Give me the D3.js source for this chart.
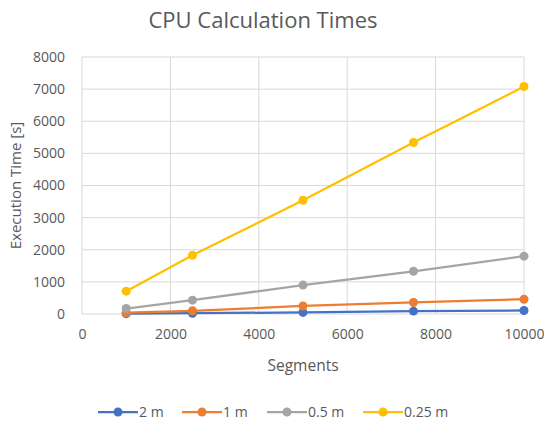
<!DOCTYPE html>
<html>
<head>
<meta charset="utf-8">
<title>CPU Calculation Times</title>
<script src="https://d3js.org/d3.v7.min.js"></script>
<style>
  body { margin: 0; background: #fff; }
  text { font-family: "Open Sans", "Liberation Sans", sans-serif; fill: #595959; }
</style>
</head>
<body>
<script>
// data
const segments = [1000, 2500, 5000, 7500, 10000]
const series2m = [10, 25, 50, 90, 110]
const series1m = [40, 100, 250, 360, 460]
const series05m = [170, 430, 900, 1330, 1800]
const series025m = [710, 1830, 3540, 5340, 7080]
const seriesNames = ["2 m", "1 m", "0.5 m", "0.25 m"]
const seriesColors = ["#4472C4", "#ED7D31", "#A5A5A5", "#FFC000"]
const xTicks = [0, 2000, 4000, 6000, 8000, 10000]
const yTicks = [0, 1000, 2000, 3000, 4000, 5000, 6000, 7000, 8000]

const allSeries = [series2m, series1m, series05m, series025m]

const W = 544, H = 427
const m = {left: 82, right: 524, top: 57, bottom: 314}

const svg = d3.select("body").append("svg")
  .attr("width", W).attr("height", H)

const x = d3.scaleLinear().domain([0, 10000]).range([m.left, m.right])
const y = d3.scaleLinear().domain([0, 8000]).range([m.bottom, m.top])

// gridlines
svg.append("g").selectAll("line.hg")
  .data(yTicks).enter().append("line")
    .attr("x1", m.left).attr("x2", m.right)
    .attr("y1", d => y(d)).attr("y2", d => y(d))
    .attr("stroke", "#d9d9d9").attr("stroke-width", 1)
svg.append("g").selectAll("line.vg")
  .data(xTicks).enter().append("line")
    .attr("x1", d => x(d)).attr("x2", d => x(d))
    .attr("y1", m.top).attr("y2", m.bottom)
    .attr("stroke", "#d9d9d9").attr("stroke-width", 1)

// axes (labels only, Excel style)
const yAxis = svg.append("g")
  .attr("transform", `translate(${m.left},0)`)
  .call(d3.axisLeft(y).tickValues(yTicks).tickSize(0).tickPadding(17).tickFormat(d3.format("d")))
yAxis.select(".domain").remove()
yAxis.selectAll("text").style("font-size", "14px").attr("fill", "#595959")

const xAxis = svg.append("g")
  .attr("transform", `translate(0,${m.bottom})`)
  .call(d3.axisBottom(x).tickValues(xTicks).tickSize(0).tickPadding(15).tickFormat(d3.format("d")))
xAxis.select(".domain").remove()
xAxis.selectAll("text").style("font-size", "14px").attr("fill", "#595959")

// lines and markers
const line = d3.line().x((d, i) => x(segments[i])).y(d => y(d))
allSeries.forEach((s, k) => {
  svg.append("path")
    .datum(s)
    .attr("d", line)
    .attr("fill", "none")
    .attr("stroke", seriesColors[k])
    .attr("stroke-width", 2.25)
  svg.append("g").selectAll("circle")
    .data(s).enter().append("circle")
      .attr("cx", (d, i) => x(segments[i]))
      .attr("cy", d => y(d))
      .attr("r", 4.5)
      .attr("fill", seriesColors[k])
})

// titles
svg.append("text")
  .attr("x", 263).attr("y", 28)
  .attr("text-anchor", "middle")
  .style("font-size", "22px")
  .text("CPU Calculation Times")

svg.append("text")
  .attr("x", 303).attr("y", 371)
  .attr("text-anchor", "middle")
  .style("font-size", "15.5px")
  .text("Segments")

svg.append("text")
  .attr("transform", `translate(21,${(m.top + m.bottom) / 2}) rotate(-90)`)
  .attr("text-anchor", "middle")
  .style("font-size", "15px")
  .text("Execution Time [s]")

// legend
const legendX = [98, 182, 267, 363]
const lg = svg.append("g")
seriesNames.forEach((name, k) => {
  const g = lg.append("g").attr("transform", `translate(${legendX[k]},412)`)
  g.append("line").attr("x1", 0).attr("x2", 40).attr("y1", 0).attr("y2", 0)
    .attr("stroke", seriesColors[k]).attr("stroke-width", 2.25)
  g.append("circle").attr("cx", 20).attr("cy", 0).attr("r", 4.5).attr("fill", seriesColors[k])
  g.append("text").attr("x", 41).attr("y", 5).style("font-size", "14px").text(name)
})
</script>
</body>
</html>
